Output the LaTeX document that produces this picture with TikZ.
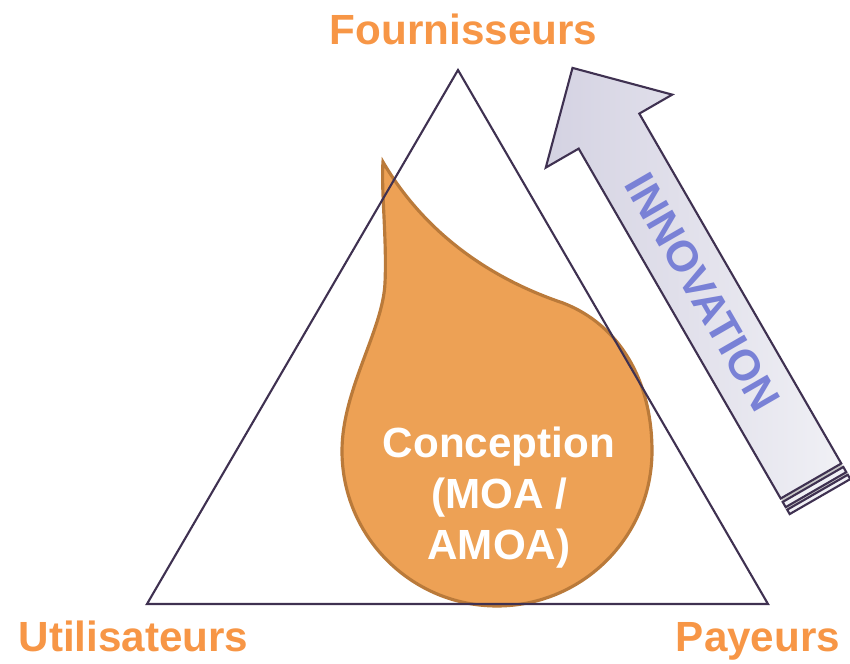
\documentclass[tikz,border=0pt]{standalone}
\usepackage{fontspec}
\setmainfont{Liberation Sans}
\usepackage{xcolor}
\definecolor{poleorange}{RGB}{247,150,70}
\definecolor{dropfill}{RGB}{237,161,85}
\definecolor{dropline}{RGB}{186,122,58}
\definecolor{triline}{RGB}{63,49,81}
\definecolor{arrowlight}{RGB}{240,240,245}
\definecolor{arrowdark}{RGB}{212,210,226}
\definecolor{innoblue}{RGB}{121,129,214}

\begin{document}
\begin{tikzpicture}[x=0.01cm,y=-0.01cm,
  pole/.style={font=\fontsize{12}{14.5}\selectfont\bfseries, text=poleorange, anchor=base, inner sep=0pt},
  edge/.style={triline, line width=0.6pt}]

\useasboundingbox (0,0) rectangle (850,664);

\draw[dropline, fill=dropfill, line width=0.9pt] (383,162) .. controls (420,225) and (480,275) .. (563,303)
  .. controls (620,325) and (652,381) .. (652,451) .. controls (652,536.6) and (582.6,606) .. (497,606)
  .. controls (411.4,606) and (342,536.6) .. (342,451) .. controls (342,390) and (383,330) .. (385,283)
  .. controls (387,240) and (381,190) .. (383,162) -- cycle;

\draw[edge] (458,70) -- (768,604) -- (147,604) -- cycle;

\begin{scope}[shift={(811,481)}, rotate=120]
\fill[black!22] (0,-35) rectangle (-18,35);
\draw[edge, fill=arrowlight] (-4,-35) rectangle (-10,35);
\draw[edge, fill=arrowlight] (-13,-35) rectangle (-18,35);
\draw[edge, left color=arrowdark, right color=arrowlight] (0,-35) -- (404,-35) -- (404,-73) -- (477,0)
  -- (404,73) -- (404,35) -- (0,35) -- cycle;
\end{scope}

\node[font=\fontsize{12.3}{14}\selectfont\bfseries, text=innoblue, rotate=-60] (innov) at (703,292) {INNOVATION};

\node[font=\fontsize{12}{14.5}\selectfont\bfseries, text=white, align=center] (concep) at (499,498) {Conception\\(MOA /\\AMOA)};

\node[pole] (fourn) at (463.5,45) {Fournisseurs};
\node[pole] (util) at (133.5,652) {Utilisateurs};
\node[pole] (payeurs) at (758,652) {Payeurs};

\end{tikzpicture}
\end{document}
